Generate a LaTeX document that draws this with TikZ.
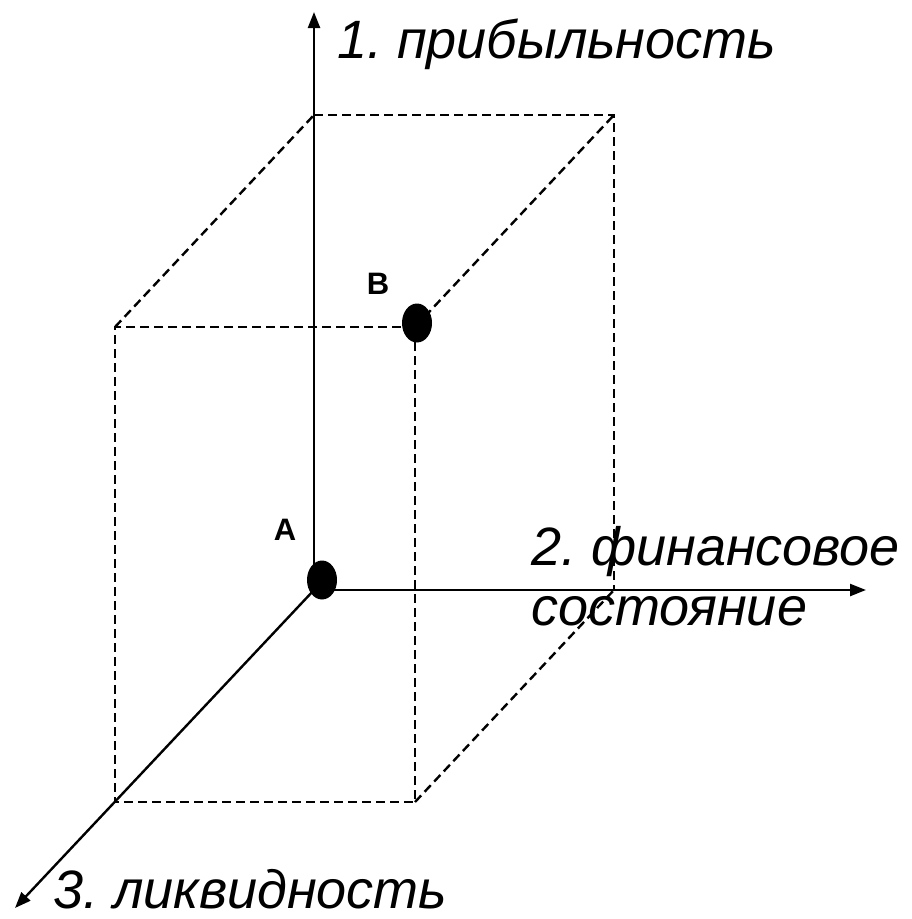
\documentclass[tikz,border=0pt]{standalone}
\usepackage{fontspec}
\setmainfont{Liberation Sans}
\usetikzlibrary{arrows.meta,shapes.geometric}
\frenchspacing
\begin{document}
\begin{tikzpicture}[x=1pt,y=-1pt,
  axis/.style={line width=2.4pt,-{Triangle[length=16pt,width=12pt]}},
  edge/.style={line width=2.4pt,dash pattern=on 9pt off 5pt},
  dot/.style={ellipse,fill=black,inner sep=0pt,minimum width=30pt,minimum height=39pt},
  axlabel/.style={font=\fontsize{54}{60}\selectfont\itshape,inner sep=0pt,anchor=base west},
  ptlabel/.style={font=\fontsize{31}{34}\selectfont\bfseries,inner sep=0pt}
]
\useasboundingbox (0,0) rectangle (911,919);
% coordinates
\coordinate (O) at (314,590);
\coordinate (Ytip) at (314,12);
\coordinate (Xtip) at (866,590);
\coordinate (Ztip) at (15,908);
\coordinate (BT1) at (314,115);
\coordinate (BT2) at (614,115);
\coordinate (BB2) at (614,590);
\coordinate (FT1) at (115,327);
\coordinate (FT2) at (415,327);
\coordinate (FB1) at (115,802);
\coordinate (FB2) at (415,802);
% dashed cube edges
\draw[edge] (BT1) -- (BT2) -- (BB2);
\draw[edge] (FT2) -- (FT1) -- (FB1) -- (FB2) -- (FT2);
\draw[edge] (FT1) -- (BT1);
\draw[edge] (FT2) -- (BT2);
\draw[edge] (FB2) -- (BB2);
% axes
\draw[axis] (O) -- (Ytip);
\draw[axis] (O) -- (Xtip);
\draw[axis] (O) -- (Ztip);
% points
\node[dot] (dotA) at (322,580) {};
\node[dot] (dotB) at (417,323) {};
\node[ptlabel] (labA) at (285,530) {A};
\node[ptlabel] (labB) at (378,284) {B};
% axis labels
\node[axlabel] (lab1) at (337,58) {1. прибыльность};
\node[axlabel] (lab2a) at (531,565) {2. финансовое};
\node[axlabel] (lab2b) at (531,625) {состояние};
\node[axlabel] (lab3) at (53,908) {3. ликвидность};
\end{tikzpicture}
\end{document}
